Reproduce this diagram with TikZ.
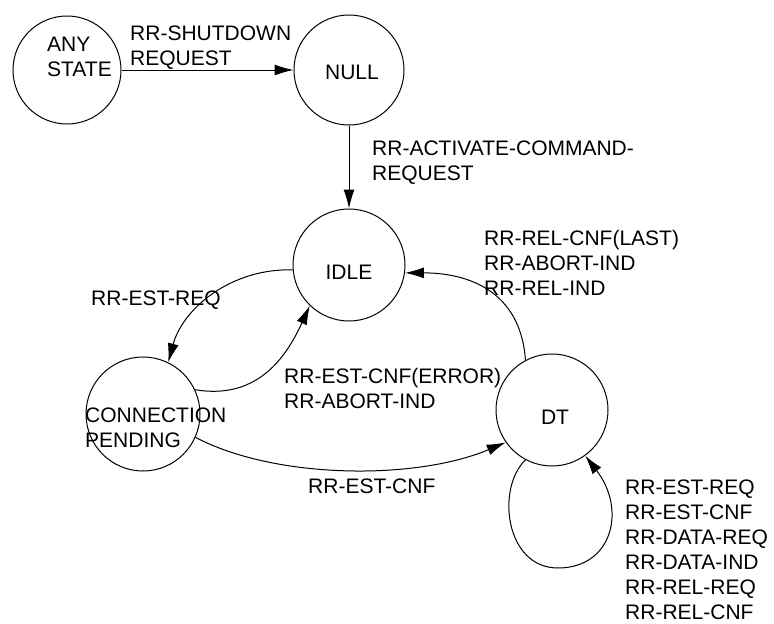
\documentclass[tikz,border=0pt]{standalone}
\usepackage{fontspec}
\setmainfont{Liberation Sans}
\usetikzlibrary{arrows.meta}
\tikzset{
  stnode/.style={draw, circle, line width=1pt, minimum size=#1, inner sep=0pt},
  txt/.style={inner sep=0pt, anchor=north west, align=left, text height=15pt, font=\fontsize{21}{25}\selectfont},
  ctxt/.style={inner sep=0pt, text height=15pt, text depth=0pt, font=\fontsize{21}{25}\selectfont},
  arr/.style={draw, line width=1pt, -{Latex[length=19pt,width=11pt]}}
}
\begin{document}
\begin{tikzpicture}[x=1pt,y=-1pt]
\useasboundingbox (0,0) rectangle (774,624);
% states
\node[stnode=108pt] (any) at (67,70) {};
\node[stnode=110pt] (null) at (349,70) {};
\node[stnode=112pt] (idle) at (349,265) {};
\node[stnode=114pt] (cp) at (143,414) {};
\node[stnode=112pt] (dt) at (552,410) {};
% state texts (anchor refers to the top of the last line)
\node[txt] (anyt) at (47,61) {ANY\\STATE};
\node[ctxt] (nullt) at (352,72) {NULL};
\node[ctxt] (idlet) at (349,272) {IDLE};
\node[txt] (cpt) at (85,432) {CONNECTION\\PENDING};
\node[ctxt] (dtt) at (555,417) {DT};
% edge labels
\node[txt] (l1) at (130,50) {RR-SHUTDOWN\\REQUEST};
\node[txt] (l2) at (372,165) {RR-ACTIVATE-COMMAND-\\REQUEST};
\node[txt] (l3) at (484,280) {RR-REL-CNF(LAST)\\RR-ABORT-IND\\RR-REL-IND};
\node[txt] (l4) at (91,290) {RR-EST-REQ};
\node[txt] (l5) at (284,393) {RR-EST-CNF(ERROR)\\RR-ABORT-IND};
\node[txt] (l6) at (308,478) {RR-EST-CNF};
\node[txt] (l7) at (625,604) {RR-EST-REQ\\RR-EST-CNF\\RR-DATA-REQ\\RR-DATA-IND\\RR-REL-REQ\\RR-REL-CNF};
% connectors
\draw[arr] (any) -- (null);
\draw[arr] (null) -- (idle);
\draw[arr] (idle.185) .. controls +(-60,-2) and +(15,-55) .. (cp.64);
\draw[arr] (cp.25) .. controls +(60,10) and +(-25,55) .. (idle.226);
\draw[arr] (cp.-24) .. controls +(80,42) and +(-90,38) .. (dt.215);
\draw[arr] (dt.118) .. controls +(-5,-70) and +(62,0) .. (idle.-8);
\coordinate (lb) at (558,568);
\draw[arr] (dt.-118) .. controls (496,488) and (505,568) .. (lb) .. controls (612,568) and (627,510) .. (dt.-54);
\end{tikzpicture}
\end{document}
